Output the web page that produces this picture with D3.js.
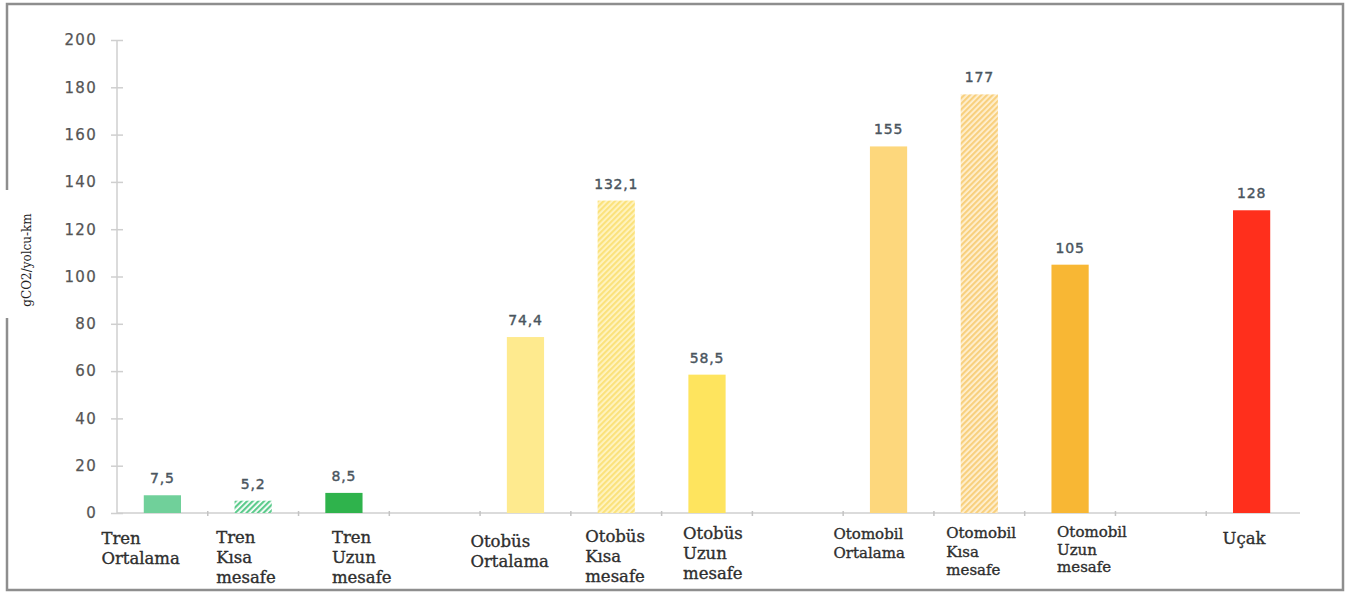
<!DOCTYPE html>
<html><head><meta charset="utf-8">
<script src="https://cdn.jsdelivr.net/npm/d3@7/dist/d3.min.js"></script>
<style>body{margin:0;background:#fff}svg{display:block}</style>
</head><body><svg id="c" width="1350" height="594"></svg>
<script>
// ---- data ----
const categories = ["Tren Ortalama","Tren Kısa mesafe","Tren Uzun mesafe","Otobüs Ortalama","Otobüs Kısa mesafe","Otobüs Uzun mesafe","Otomobil Ortalama","Otomobil Kısa mesafe","Otomobil Uzun mesafe","Uçak"];
const groups = ["Tren","Tren","Tren","Otobüs","Otobüs","Otobüs","Otomobil","Otomobil","Otomobil","Uçak"];
const values = [7.5,5.2,8.5,74.4,132.1,58.5,155,177,105,128];
const valueLabels = ["7,5","5,2","8,5","74,4","132,1","58,5","155","177","105","128"];
const yTickValues = [0,20,40,60,80,100,120,140,160,180,200];
const yTitle = "gCO2/yolcu-km";

// ---- styles / layout ----
const fills = ["#70d09a","url(#hG)","#2fb34c","#feea8e","url(#hY)","#fee45e","#fdd77c","url(#hO)","#f8b734","#ff2f1c"];
const labelDx = [-61,-37,-12,-55,-31,-24,-55,-33,-13,-29];
const labelY0 = [538,537,537,541,536,533,534,533,532,538];
const labelSize = [16.5,16.5,16.5,16.5,16.5,16.5,15,15,15,16.5];
const labelLH = [20,20,20,20,20,20,18.5,18.5,17.5,20];

const svg = d3.select("#c");
const defs = svg.append("defs");
function hatch(id, bg, fg){
  const p = defs.append("pattern").attr("id",id).attr("patternUnits","userSpaceOnUse")
    .attr("width",4).attr("height",4).attr("patternTransform","rotate(45)");
  p.append("rect").attr("width",4).attr("height",4).attr("fill",bg);
  p.append("rect").attr("width",2.2).attr("height",4).attr("fill",fg);
}
hatch("hG","#ffffff","#5ccb8c");
hatch("hY","#fff4c4","#fbe27c");
hatch("hO","#fff0d2","#f8d07e");

// frame
const fr = svg.append("g").attr("stroke","#8e8e8e").attr("stroke-width",2.5).attr("fill","none");
fr.append("path").attr("d","M7,190 V4 H1343 V590 H7 V318");

// scales
const slots = [];
categories.forEach((c,i)=>{ if(i>0 && groups[i]!==groups[i-1]) slots.push("gap"+i); slots.push(c); });
const x = d3.scaleBand().domain(slots).range([117,1297]).paddingInner(0.59).paddingOuter(0.295);
const y = d3.scaleLinear().domain([0,200]).range([513,40]);

// y axis
const ya = svg.append("g").attr("transform","translate(117,0)")
  .call(d3.axisLeft(y).tickValues(yTickValues).tickSize(6).tickPadding(14).tickFormat(d3.format("d")));
ya.select(".domain").attr("stroke","#cfcfcf").attr("stroke-width",1.5).attr("d","M0,"+y(200)+"V"+y(0));
ya.selectAll(".tick line").attr("stroke","#cfcfcf").attr("stroke-width",1.5).attr("x1",6).attr("x2",-6);
ya.selectAll(".tick text").attr("fill","#555").attr("stroke","#555").attr("stroke-width",0.25)
  .style("font-family","DejaVu Sans").style("font-size","15px").style("letter-spacing","1.3px");

// x axis line + boundary ticks
const xa = svg.append("g");
xa.append("line").attr("x1",117).attr("x2",1300).attr("y1",y(0)).attr("y2",y(0)).attr("stroke","#cfcfcf").attr("stroke-width",1.5);
xa.selectAll("line.tk").data(d3.range(1,slots.length)).join("line").attr("class","tk")
  .attr("x1",i=>x.range()[0]+i*x.step()).attr("x2",i=>x.range()[0]+i*x.step())
  .attr("y1",y(0)-2).attr("y2",y(0)+3).attr("stroke","#c4c4c4").attr("stroke-width",1.5);

// bars
svg.append("g").selectAll("rect").data(categories).join("rect")
  .attr("x",d=>x(d)).attr("width",x.bandwidth())
  .attr("y",(d,i)=>y(values[i])).attr("height",(d,i)=>y(0)-y(values[i]))
  .attr("fill",(d,i)=>fills[i]);

// value labels
svg.append("g").selectAll("text").data(categories).join("text")
  .attr("x",d=>x(d)+x.bandwidth()/2).attr("y",(d,i)=>y(values[i])-12)
  .attr("text-anchor","middle").attr("fill","#4a555e").attr("stroke","#4a555e").attr("stroke-width",0.4)
  .style("font-family","DejaVu Sans").style("font-size","14px").style("letter-spacing","0.8px")
  .text((d,i)=>valueLabels[i]);

// category labels
const cl = svg.append("g").selectAll("text").data(categories).join("text")
  .attr("x",(d,i)=>x(d)+x.bandwidth()/2+labelDx[i])
  .attr("y",(d,i)=>labelY0[i]+labelSize[i]*0.36)
  .attr("fill","#2e2e2e").attr("stroke","#2e2e2e").attr("stroke-width",0.35)
  .style("font-family","DejaVu Serif")
  .style("font-size",(d,i)=>labelSize[i]+"px");
cl.each(function(d,i){
  const t = d3.select(this);
  d.split(" ").forEach((w,k)=>{
    t.append("tspan").attr("x",x(d)+x.bandwidth()/2+labelDx[i]).attr("dy",k===0?0:labelLH[i]).text(w);
  });
});

// y title
svg.append("text").attr("transform","translate(31,260) rotate(-90)").attr("text-anchor","middle")
  .style("font-family","DejaVu Serif").style("font-size","12px").attr("fill","#222").text(yTitle);
</script>
</body></html>
